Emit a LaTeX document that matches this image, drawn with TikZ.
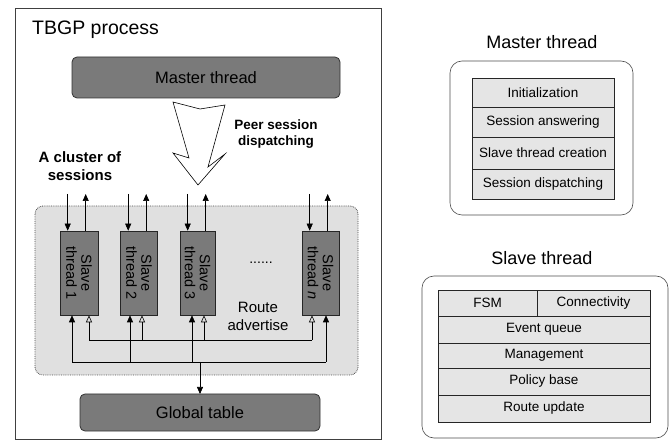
\documentclass[tikz,border=0pt]{standalone}
\usepackage{fontspec}
\setmainfont{Liberation Sans}
\usetikzlibrary{arrows.meta}

\tikzset{
  darkbar/.style={draw=black!80, fill=black!52, rounded corners=5pt, line width=0.8pt},
  slavebox/.style={draw=black!85, fill=black!52, line width=0.6pt, minimum width=#1, minimum height=84pt, inner sep=0pt},
  tablecell/.style={draw=black!85, fill=black!10, line width=0.6pt, inner sep=0pt, font=\fontsize{13.5}{15}\selectfont},
  frame/.style={draw=black!70, line width=0.6pt, rounded corners=12pt},
  inarrow/.style={-{Triangle[length=7pt,width=6pt]}, line width=0.6pt},
  hollowarrow/.style={-{Triangle[open,length=7pt,width=6pt]}, line width=0.6pt},
}

\begin{document}
\begin{tikzpicture}[x=1pt, y=-1pt]
\useasboundingbox (0,0) rectangle (672,443);

% ---------------- TBGP process (left) ----------------
\draw[black!75, line width=0.6pt] (15,8) rectangle (381,439);
\node[anchor=west, inner sep=0pt, font=\fontsize{19.5}{21}\selectfont] (title) at (32,30) {TBGP process};

% master thread bar
\draw[darkbar] (72,57) rectangle (340,98);
\node[font=\fontsize{16.5}{18}\selectfont] (master) at (206,77.5) {Master thread};

% dispatching arrow
\draw[line width=0.6pt, fill=white] (173,102) -- (200,109) -- (225,105) -- (208,167)
  -- (225,154) -- (198,185) -- (173,153) -- (189,158) -- cycle;
\node[align=center, font=\bfseries\fontsize{13.5}{16}\selectfont] (peer) at (276,134)
  {Peer session\\dispatching};
\node[align=center, font=\bfseries\fontsize{15}{18}\selectfont] (cluster) at (80,166)
  {A cluster of\\sessions};

% cluster of slave threads
\draw[black!70, densely dotted, line width=0.8pt, fill=black!12, rounded corners=8pt]
  (35,206) rectangle (358,375);

\node[slavebox=38pt] (s1) at (79,273) {};
\node[slavebox=37pt] (s2) at (139,273) {};
\node[slavebox=35pt] (s3) at (197.5,273) {};
\node[slavebox=37pt] (sn) at (320.5,273) {};

\foreach \b/\t in {s1/thread 1, s2/thread 2, s3/thread 3, sn/thread \textit{n}} {
  \node[rotate=-90, align=center, font=\fontsize{14.5}{15}\selectfont] at (\b) {Slave\\\t};
}

\node[font=\fontsize{14}{14}\selectfont] (dots) at (261,263) {......};
\node[align=center, font=\fontsize{15}{18}\selectfont] (route) at (258,316) {Route\\advertise};

% session arrows above each slave thread
\foreach \b in {s1,s2,s3,sn} {
  \coordinate (\b-in) at ([xshift=8pt]\b.north west |- 0,194);
  \coordinate (\b-out) at ([xshift=26pt]\b.north west |- 0,194);
  \draw[inarrow] (\b-in) -- (\b-in |- \b.north);
  \draw[inarrow] (\b-out |- \b.north) -- (\b-out);
}

% route advertise bus (hollow heads)
\coordinate (h1) at (89,340);
\coordinate (h2) at (142,340);
\coordinate (h3) at (204,340);
\coordinate (hn) at (312,340);
\draw[line width=0.6pt] (h1) -- (hn);
\foreach \b/\h in {s1/h1, s2/h2, s3/h3, sn/hn}
  \draw[hollowarrow] (\h) -- (\h |- \b.south);

% global table bus (filled heads)
\coordinate (f1) at (72,362);
\coordinate (f2) at (130,362);
\coordinate (f3) at (192,362);
\coordinate (fn) at (326,362);
\coordinate (fj) at (200,362);
\draw[line width=0.6pt] (f1) -- (fn);
\foreach \b/\f in {s1/f1, s2/f2, s3/f3, sn/fn}
  \draw[inarrow] (\f) -- (\f |- \b.south);

% global table
\draw[darkbar] (80,394) rectangle (320,431);
\node[font=\fontsize{16.5}{18}\selectfont] (gt) at (200,412.5) {Global table};
\coordinate (gtop) at (200,394);
\draw[inarrow] (fj) -- (gtop);

% ---------------- Master thread (right) ----------------
\node[font=\fontsize{18}{20}\selectfont] (mtitle) at (542,42) {Master thread};
\draw[frame] (450,61) rectangle (633,215);
\foreach \y/\h/\t in {92.5/29/Initialization, 122/30/Session answering,
                      153/32/Slave thread creation, 184/30/Session dispatching}
  \node[tablecell, minimum width=142pt, minimum height=\h pt] at (543,\y) {\t};

% ---------------- Slave thread (right) ----------------
\node[font=\fontsize{18}{20}\selectfont] (stitle) at (542,258) {Slave thread};
\draw[frame] (422,276) rectangle (668,438);
\node[tablecell, minimum width=99pt, minimum height=26pt] (fsm) at (487.5,303) {FSM};
\node[tablecell, minimum width=113pt, minimum height=26pt] (conn) at (593.5,303) {Connectivity};
\foreach \y/\h/\t in {329.5/27/Event queue, 355.5/25/Management,
                      381.5/27/Policy base, 408.5/27/Route update}
  \node[tablecell, minimum width=212pt, minimum height=\h pt] at (544,\y) {\t};

\end{tikzpicture}
\end{document}
